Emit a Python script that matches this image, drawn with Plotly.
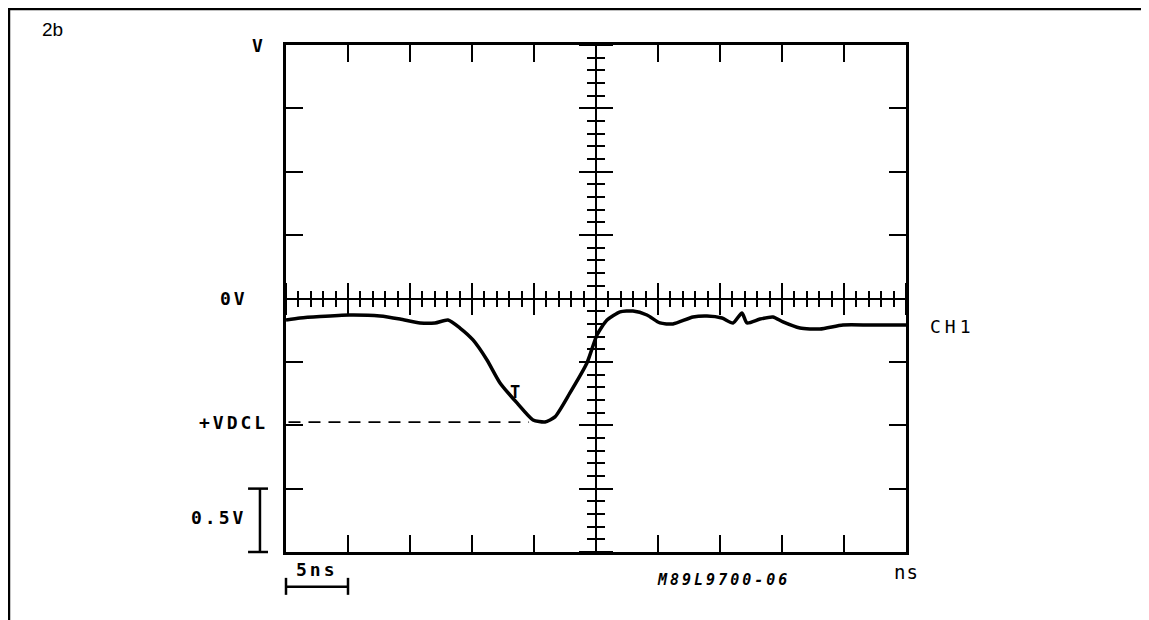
import plotly.graph_objects as go

# ---- data -------------------------------------------------------------
time_ns = [0, 1.13, 2.74, 5.08, 7.58, 9.19, 10.81, 12.02, 13.06, 14.03, 15.08,
           16.21, 17.26, 18.63, 19.92, 20.89, 21.69, 22.90, 24.27, 25.08, 25.89,
           26.94, 27.98, 29.11, 30.16, 31.21, 32.82, 33.95, 35.16, 36.05, 36.77,
           37.18, 38.23, 39.27, 40.08, 41.45, 43.06, 44.92, 47.10, 50]
ch1_volts = [-0.170, -0.154, -0.142, -0.130, -0.138, -0.162, -0.193, -0.193, -0.170,
             -0.233, -0.327, -0.485, -0.666, -0.824, -0.958, -0.974, -0.934, -0.745,
             -0.509, -0.288, -0.170, -0.106, -0.099, -0.130, -0.193, -0.201, -0.146,
             -0.138, -0.154, -0.193, -0.114, -0.193, -0.162, -0.146, -0.185, -0.233,
             -0.241, -0.209, -0.209, -0.209]
vdcl_level = -0.975
time_div_ns = 5
volt_div = 0.5
x_range = [0, 50]
y_range = [-2, 2]

# page body has an 8px margin, so the figure is drawn 8px smaller
W, H = 1141, 612
L, R, T, B = 278, 243, 37, 68

MONO = "DejaVu Sans Mono"


def pxr(ns):
    return (ns - x_range[0]) / (x_range[1] - x_range[0])


def pyr(v):
    return (v - y_range[0]) / (y_range[1] - y_range[0])


fig = go.Figure()

fig.add_trace(go.Scatter(
    x=time_ns, y=ch1_volts, mode="lines",
    line=dict(color="black", width=3.5, shape="spline", smoothing=0.6),
    hoverinfo="skip", showlegend=False))

# dummy traces so the overlay (cross-hair) axes are created
for xa, ya in (("x2", "y2"), ("x3", "y3")):
    fig.add_trace(go.Scatter(x=[None], y=[None], xaxis=xa, yaxis=ya,
                             mode="lines", hoverinfo="skip", showlegend=False))

frame_axis = dict(showgrid=False, zeroline=False, showline=True, linewidth=2.5,
                  linecolor="black", mirror="ticks", ticks="inside", ticklen=17,
                  tickwidth=2.2, tickcolor="black", showticklabels=False)

cross_x = dict(overlaying="x", anchor="free", position=0.5, range=x_range,
               showgrid=False, zeroline=False, showline=True, linewidth=2,
               linecolor="black", ticks="outside", ticklen=15, tickwidth=2,
               tickcolor="black", tick0=0, dtick=time_div_ns, showticklabels=False,
               minor=dict(ticks="outside", dtick=time_div_ns / 5, ticklen=7,
                          tickwidth=2, tickcolor="black"))
cross_y = dict(overlaying="y", anchor="free", position=0.5, range=y_range,
               showgrid=False, zeroline=False, showline=True, linewidth=2,
               linecolor="black", ticks="outside", ticklen=16, tickwidth=2,
               tickcolor="black", tick0=0, dtick=volt_div, showticklabels=False,
               minor=dict(ticks="outside", dtick=volt_div / 5, ticklen=8,
                          tickwidth=2, tickcolor="black"))

fig.update_layout(
    width=W, height=H, autosize=False,
    margin=dict(l=L, r=R, t=T, b=B),
    paper_bgcolor="white", plot_bgcolor="white",
    xaxis=dict(range=x_range, tick0=0, dtick=time_div_ns, **frame_axis),
    yaxis=dict(range=y_range, tick0=0, dtick=volt_div, **frame_axis),
    xaxis2=dict(side="bottom", **cross_x),
    xaxis3=dict(side="top", **cross_x),
    yaxis2=dict(side="left", **cross_y),
    yaxis3=dict(side="right", **cross_y),
)

shapes = []
# dashed +VDCL level
shapes.append(dict(type="line", xref="x", yref="y", x0=0.2, x1=19.6,
                   y0=vdcl_level, y1=vdcl_level,
                   line=dict(color="black", width=1.6, dash="12px,8px")))
# outer page frame (top & left)
shapes.append(dict(type="path", xref="paper", yref="paper",
                   path="M -0.4468 -0.3 L -0.4468 1.0710 L 1.5 1.0710",
                   line=dict(color="black", width=2.5)))
# 0.5 V scale bar (I-bar)
bx = pxr(-2.1)
shapes.append(dict(type="line", xref="paper", yref="paper", x0=bx, x1=bx,
                   y0=pyr(-2), y1=pyr(-2 + volt_div), line=dict(color="black", width=2.5)))
for v in (-2, -2 + volt_div):
    shapes.append(dict(type="line", xref="paper", yref="paper",
                       x0=pxr(-3.06), x1=pxr(-1.45), y0=pyr(v), y1=pyr(v),
                       line=dict(color="black", width=2.5)))
# 5 ns scale bar (H-bar)
by = pyr(-2.275)
shapes.append(dict(type="line", xref="paper", yref="paper", x0=pxr(0), x1=pxr(time_div_ns),
                   y0=by, y1=by, line=dict(color="black", width=2.5)))
for t in (0, time_div_ns):
    shapes.append(dict(type="line", xref="paper", yref="paper", x0=pxr(t), x1=pxr(t),
                       y0=pyr(-2.204), y1=pyr(-2.338), line=dict(color="black", width=2.5)))
fig.update_layout(shapes=shapes)


def lab(text, ns, v, size, xanchor="center", weight="bold", style="normal",
        spacing=3, family=MONO):
    if spacing:
        text = f'<span style="letter-spacing:{spacing}px">{text}</span>'
    return dict(text=text, x=pxr(ns), y=pyr(v), xref="paper", yref="paper",
                showarrow=False, xanchor=xanchor, yanchor="middle",
                font=dict(family=family, size=size, color="black",
                          weight=weight, style=style))


annotations = [
    lab("2b", -19.84, 2.125, 19, xanchor="left", weight="normal", spacing=0,
        family="Liberation Sans"),
    lab("V", -2.18, 2.0, 18),
    lab("0V", -2.9, 0, 18, xanchor="right"),
    lab("+VDCL", -1.3, vdcl_level, 18, xanchor="right"),
    lab("0.5V", -3.1, -1.73, 18, xanchor="right"),
    lab("5ns", 2.5, -2.14, 18),
    lab("ns", 50.0, -2.16, 19, weight="normal", spacing=1),
    lab("CH1", 51.8, -0.217, 18, xanchor="left", weight="normal", spacing=4),
    lab("M89L9700-06", 35.3, -2.22, 15, weight="bold", style="italic", spacing=3),
    lab("T", 18.5, -0.74, 17, weight="bold", spacing=0),
]
fig.update_layout(annotations=annotations)

fig.write_html("out.html")
